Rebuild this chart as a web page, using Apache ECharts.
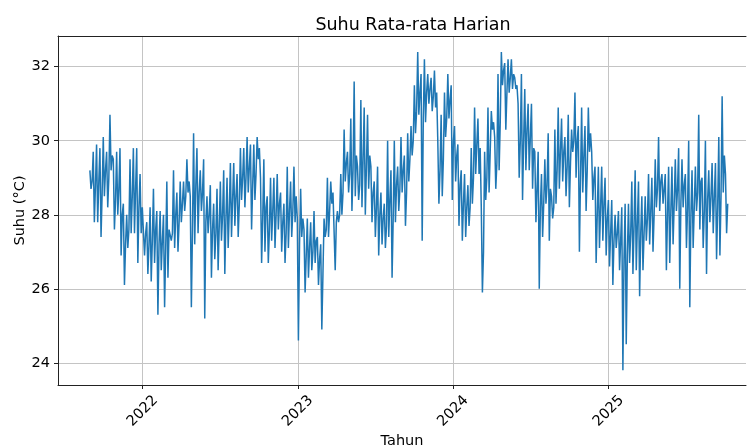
<!DOCTYPE html>
<html>
<head>
<meta charset="utf-8">
<script src="https://cdn.jsdelivr.net/npm/echarts@6/dist/echarts.min.js"></script>
<style>
  html, body { margin: 0; padding: 0; background: #fff; }
  #chart { width: 747px; height: 447px; }
</style>
</head>
<body>
<div id="chart"></div>
<script>
// rentang data (harian)
const tanggalAwal = Date.UTC(2021, 7, 30)
const tanggalAkhir = Date.UTC(2025, 9, 8)

// tiap potongan ~8 hari: puncak, lembah dan tingkat tengah (°C)
const suhuMaks = [
  29.2, 29.7, 29.9, 29.8, 30.1, 29.7, 30.7, 29.5, 29.7, 29.8, 28.3, 28.0, 29.5, 29.8, 29.8, 29.1,
  28.2, 27.8, 28.2, 28.7, 28.1, 28.1, 28.0, 28.9, 27.6, 29.2,
  28.6, 28.9, 28.9, 29.5, 28.5, 30.2, 29.8, 29.2, 29.5, 28.5, 28.8, 28.3, 28.7, 28.9, 29.2, 29.0,
  29.4, 29.4, 29.1, 29.8, 29.8, 30.1, 29.9, 29.9, 30.1, 29.0, 29.5, 28.5, 29.0, 29.0, 29.1, 28.6,
  28.3, 29.3,
  28.9, 29.3, 27.9, 28.7, 27.6, 27.9, 27.8, 28.1, 27.4, 27.2, 27.9, 29.0, 28.9, 28.6, 28.1, 29.1,
  30.3, 29.7, 30.6, 31.6, 29.3, 31.1, 30.9, 30.7, 29.3, 28.9, 29.3, 28.6, 28.3, 30.0, 29.2, 30.0,
  29.3, 30.1,
  29.6, 30.2, 30.4, 31.5, 32.4, 31.8, 32.2, 31.8, 31.7, 31.9, 30.0, 30.7, 31.3, 31.8, 31.5, 30.4,
  29.9, 29.2, 29.1, 28.8, 29.8, 30.9, 30.6, 28.2, 29.7, 30.9, 30.8, 30.1, 31.8, 32.4, 32.1, 32.2,
  32.2, 31.7, 31.0,
  31.8, 31.4, 31.0, 31.0, 29.7, 29.7, 29.1, 29.5, 30.2, 28.5, 30.3, 30.9, 30.6, 30.1, 30.7, 30.3,
  31.3, 30.4, 30.9, 30.4, 30.9, 29.7, 29.3, 29.3, 29.3, 29.0, 28.4, 28.4, 28.0, 28.1, 28.2, 28.3,
  28.3, 28.9,
  29.2, 28.9, 28.5, 28.5, 29.1, 29.0, 29.5, 30.1, 29.1, 29.1, 29.3, 29.3, 29.5, 29.8, 29.5, 29.1,
  30.0, 29.2, 29.3, 30.7, 29.0, 30.0, 29.2, 29.4, 29.4, 30.1, 31.2, 29.1
]
const suhuMin = [
  28.7, 27.8, 27.8, 27.4, 28.5, 28.2, 29.2, 27.6, 28.0, 26.9, 26.1, 27.1, 27.5, 27.5, 26.7, 27.5,
  26.9, 26.4, 26.2, 26.7, 25.3, 26.5, 25.5, 26.3, 27.3, 27.1,
  27.0, 27.8, 28.1, 28.6, 25.5, 27.2, 27.5, 28.1, 25.2, 27.5, 26.3, 26.8, 26.5, 27.3, 26.4, 27.1,
  27.4, 27.7, 27.4, 28.4, 28.2, 28.6, 27.6, 28.4, 29.5, 26.7, 27.0, 26.7, 27.3, 27.1, 27.6, 27.0,
  26.7, 27.1,
  27.4, 27.8, 24.6, 27.4, 25.9, 26.3, 26.5, 26.7, 26.1, 24.9, 27.4, 27.4, 28.3, 26.5, 27.8, 28.0,
  28.9, 28.6, 28.1, 28.5, 28.4, 28.2, 28.0, 28.7, 27.8, 27.4, 26.9, 27.2, 27.1, 27.4, 26.3, 27.8,
  28.1, 28.6,
  27.7, 28.9, 29.6, 30.2, 30.7, 27.3, 30.5, 31.0, 30.8, 30.9, 28.3, 28.5, 30.1, 30.6, 28.4, 28.9,
  27.7, 27.3, 27.4, 27.7, 28.3, 29.1, 29.1, 25.9, 28.4, 28.6, 30.3, 28.7, 29.2, 31.5, 30.3, 31.3,
  31.4, 31.4, 29.0,
  28.4, 29.2, 29.2, 28.7, 27.8, 26.0, 27.4, 28.3, 27.3, 27.9, 28.3, 28.7, 28.9, 28.5, 28.2, 29.7,
  29.0, 27.0, 28.6, 28.1, 29.7, 28.4, 26.7, 27.1, 27.3, 26.9, 26.6, 26.1, 27.1, 26.5, 23.8, 24.5,
  26.7, 26.4,
  26.5, 25.8, 26.5, 27.3, 27.2, 27.0, 28.2, 28.1, 28.3, 26.5, 26.7, 27.2, 28.1, 26.0, 28.2, 27.1,
  25.5, 27.1, 28.1, 27.6, 27.1, 26.4, 27.8, 27.5, 26.8, 26.9, 28.6, 27.5
]
const suhuTengah = [
  28.9, 28.8, 28.9, 28.6, 29.2, 29.0, 29.6, 28.4, 28.7, 28.0, 27.2, 27.6, 28.5, 28.7, 28.2, 28.2,
  27.5, 27.2, 27.3, 27.6, 27.2, 27.3, 27.1, 27.6, 27.5, 28.0,
  27.8, 28.3, 28.5, 28.9, 27.6, 28.8, 28.6, 28.6, 27.8, 28.0, 27.6, 27.5, 27.7, 28.0, 27.9, 28.1,
  28.4, 28.5, 28.3, 29.0, 29.0, 29.3, 28.8, 29.1, 29.8, 27.9, 28.2, 27.6, 28.1, 28.0, 28.3, 27.8,
  27.5, 28.1,
  28.1, 28.5, 27.2, 27.9, 26.9, 27.1, 27.0, 27.3, 26.8, 26.4, 27.6, 28.1, 28.6, 27.8, 28.0, 28.6,
  29.4, 29.1, 29.2, 29.6, 28.8, 29.5, 29.3, 29.6, 28.6, 28.2, 28.0, 27.9, 27.7, 28.4, 27.9, 28.8,
  28.7, 29.2,
  28.6, 29.5, 30.0, 30.8, 31.3, 30.6, 31.3, 31.4, 31.2, 31.3, 29.2, 29.5, 30.6, 31.1, 30.0, 29.6,
  28.8, 28.3, 28.2, 28.2, 29.0, 29.9, 29.8, 27.0, 29.0, 29.7, 30.5, 29.4, 30.5, 31.9, 31.3, 31.7,
  31.8, 31.5, 30.0,
  30.0, 30.3, 30.1, 29.8, 28.7, 28.2, 28.3, 28.8, 28.7, 28.2, 29.2, 29.7, 29.7, 29.3, 29.4, 30.0,
  30.0, 29.0, 29.6, 29.2, 30.2, 29.0, 28.0, 28.2, 28.3, 27.9, 27.5, 27.3, 27.5, 27.3, 26.8, 26.9,
  27.5, 27.7,
  27.8, 27.5, 27.5, 27.9, 28.1, 28.0, 28.7, 28.9, 28.7, 28.0, 28.1, 28.3, 28.7, 28.3, 28.8, 28.2,
  28.0, 28.2, 28.6, 28.9, 28.1, 28.4, 28.5, 28.5, 28.2, 28.5, 29.6, 28.3
]

// tick sumbu
const tahunTick = [2022, 2023, 2024, 2025]
const suhuTick = [24, 26, 28, 30, 32]

// urutan harian: puncak, lembah, tengah untuk tiap potongan
const suhu = []
suhuMaks.forEach((v, i) => { suhu.push(v, suhuMin[i], suhuTengah[i]) })

const langkah = (tanggalAkhir - tanggalAwal) / (suhu.length - 1)
const dataSeri = suhu.map((v, i) => [tanggalAwal + i * langkah, v])
const tickWaktu = tahunTick.map(t => Date.UTC(t, 0, 1))

const batasKiri = Date.UTC(2021, 5, 16)
const batasKanan = Date.UTC(2025, 10, 20)

const huruf = 'DejaVu Sans'
const chart = echarts.init(document.getElementById('chart'), null, { renderer: 'canvas' })

chart.setOption({
  animation: false,
  backgroundColor: '#fff',
  title: {
    text: 'Suhu Rata-rata Harian',
    left: 408,
    top: 11,
    textAlign: 'center',
    textStyle: { fontFamily: huruf, fontSize: 17.5, fontWeight: 'normal', color: '#000' }
  },
  grid: { left: 58, right: 1, top: 36, bottom: 62, outerBoundsMode: 'none', containLabel: false },
  xAxis: [{
    type: 'value',
    min: batasKiri,
    max: batasKanan,
    name: 'Tahun',
    nameLocation: 'middle',
    nameGap: 49,
    nameMoveOverlap: false,
    nameTextStyle: { fontFamily: huruf, fontSize: 14.5, color: '#000' },
    axisLine: { lineStyle: { color: '#222', width: 1 } },
    axisTick: { customValues: tickWaktu, length: 4, lineStyle: { color: '#222' } },
    axisLabel: {
      customValues: tickWaktu,
      rotate: 45,
      align: 'center',
      verticalAlign: 'middle',
      margin: 26,
      fontFamily: huruf,
      fontSize: 14.5,
      color: '#000',
      formatter: v => String(new Date(v).getUTCFullYear())
    },
    splitLine: { show: true, lineStyle: { color: '#c4c4c4', width: 1 } }
  }, {
    // garis tepi atas
    type: 'value',
    position: 'top',
    min: batasKiri,
    max: batasKanan,
    axisLine: { show: true, lineStyle: { color: '#222', width: 1 } },
    axisTick: { show: false },
    axisLabel: { show: false },
    splitLine: { show: false }
  }],
  yAxis: {
    type: 'value',
    min: 23.4,
    max: 32.83,
    name: 'Suhu (°C)',
    nameLocation: 'middle',
    nameGap: 30,
    nameRotate: 90,
    nameMoveOverlap: false,
    nameTextStyle: { fontFamily: huruf, fontSize: 14.5, color: '#000' },
    axisLine: { show: true, lineStyle: { color: '#222', width: 1 } },
    axisTick: { show: true, customValues: suhuTick, length: 4, lineStyle: { color: '#222' } },
    axisLabel: { customValues: suhuTick, margin: 8, fontFamily: huruf, fontSize: 14.5, color: '#000' },
    splitLine: { show: true, lineStyle: { color: '#c4c4c4', width: 1 } }
  },
  series: [{
    type: 'line',
    data: dataSeri,
    showSymbol: false,
    sampling: null,
    lineStyle: { color: '#1f77b4', width: 1.5 },
    emphasis: { disabled: true }
  }]
})
</script>
</body>
</html>
